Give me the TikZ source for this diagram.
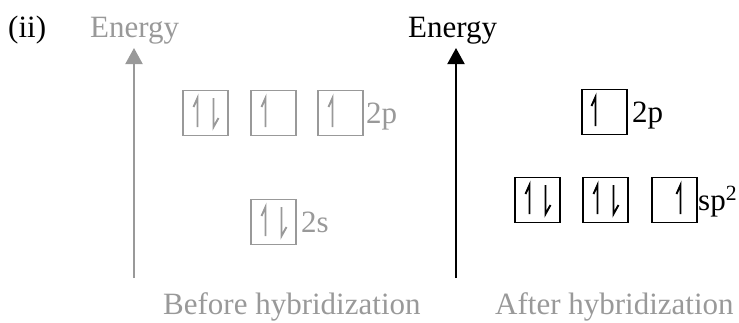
\documentclass[tikz,border=0pt]{standalone}
\usepackage{fontspec}
\setmainfont{Liberation Serif}
\usetikzlibrary{arrows.meta,calc}
\definecolor{lg}{HTML}{999999}
\begin{document}
\begin{tikzpicture}[x=1pt,y=-1pt,
  font=\fontsize{31}{37}\selectfont,
  lbl/.style={inner sep=0, anchor=base west},
  orb/.style={draw, line width=1.3pt, minimum width=45pt, minimum height=45pt, inner sep=0},
  ax/.style={line width=2pt, -{Triangle[width=17pt,length=16pt]}},
  hup/.pic={\draw[pic actions, line width=1.9pt, line join=miter] (0,14)--(0,-15)--(-4,-6);},
  hdown/.pic={\draw[pic actions, line width=1.9pt, line join=miter] (0,-15)--(0,14)--(5,5);}]
\useasboundingbox (0,0) rectangle (739,322);

% titles
\node[lbl] (ii) at (8,37) {(ii)};
\node[lbl, text=lg] (en1) at (90,37) {Energy};
\node[lbl] (en2) at (408,37) {Energy};

% axes
\coordinate (a1b) at (134,278); \coordinate (a1t) at (134,48);
\coordinate (a2b) at (456,278); \coordinate (a2t) at (456,48);
\draw[ax, lg] (a1b) -- (a1t);
\draw[ax, black] (a2b) -- (a2t);

% before hybridization
\node[orb, draw=lg] (p1) at (205.5,113) {};
\node[orb, draw=lg] (p2) at (273.5,113) {};
\node[orb, draw=lg] (p3) at (340.5,113) {};
\node[lbl, text=lg] (l2p) at (366,123) {2p};
\node[orb, draw=lg] (s1) at (273.5,222) {};
\node[lbl, text=lg] (l2s) at (301,232) {2s};
\pic[lg] at ($(p1)+(-8,0)$) {hup};
\pic[lg] at ($(p1)+(8,0)$) {hdown};
\pic[lg] at ($(p2)+(-8,0)$) {hup};
\pic[lg] at ($(p3)+(-8,0)$) {hup};
\pic[lg] at ($(s1)+(-8,0)$) {hup};
\pic[lg] at ($(s1)+(8,0)$) {hdown};

% after hybridization
\node[orb] (q1) at (604.5,112) {};
\node[lbl] (r2p) at (632,122) {2p};
\pic at ($(q1)+(-9,0)$) {hup};
\node[orb] (h1) at (537.5,200) {};
\node[orb] (h2) at (605.5,200) {};
\node[orb] (h3) at (674.5,200) {};
\node[lbl] (rsp) at (698,210) {sp\textsuperscript{2}};
\pic at ($(h1)+(-8,0)$) {hup};
\pic at ($(h1)+(8,0)$) {hdown};
\pic at ($(h2)+(-8,0)$) {hup};
\pic at ($(h2)+(8,0)$) {hdown};
\pic at ($(h3)+(6,0)$) {hup};

% bottom labels
\node[lbl, text=lg] (bef) at (163,314) {Before hybridization};
\node[lbl, text=lg] (aft) at (495,314) {After hybridization};
\end{tikzpicture}
\end{document}
